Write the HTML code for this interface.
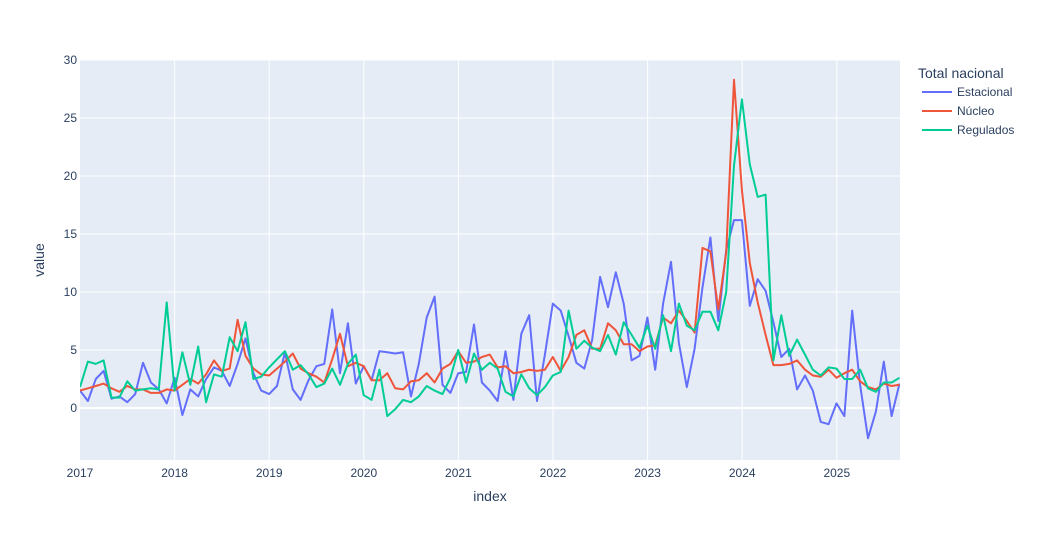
<!DOCTYPE html>
<html><head><meta charset="utf-8"><style>
body{margin:0;background:#fff;font-family:"Liberation Sans",Arial,sans-serif;}
svg text{font-family:"Liberation Sans",Arial,sans-serif;fill:#2a3f5f;}
</style></head><body>
<svg id="s" width="1037" height="540" xmlns="http://www.w3.org/2000/svg">
<defs><clipPath id="c"><rect x="80" y="60" width="820" height="400"/></clipPath></defs>
<rect x="0" y="0" width="1037" height="540" fill="#fff"/>
<rect x="80" y="60" width="820" height="400" fill="#e5ecf6"/>
<g id="grid"></g>
<g id="lines" clip-path="url(#c)"></g>
<g id="ticks" font-size="12"></g>
<text x="490" y="501" font-size="14" text-anchor="middle">index</text>
<text x="44" y="260" font-size="14" text-anchor="middle" transform="rotate(-90 44 260)">value</text>
<text x="918" y="78" font-size="14">Total nacional</text>
<line x1="922" y1="92" x2="952" y2="92" stroke="#636efa" stroke-width="2"/>
<text x="957" y="96" font-size="12">Estacional</text>
<line x1="922" y1="111" x2="952" y2="111" stroke="#ef553b" stroke-width="2"/>
<text x="957" y="115" font-size="12">Núcleo</text>
<line x1="922" y1="130" x2="952" y2="130" stroke="#00cc96" stroke-width="2"/>
<text x="957" y="134" font-size="12">Regulados</text>
</svg>
<script>
var NS="http://www.w3.org/2000/svg";
function Y(v){return 408-v*11.6;}
function X(i){return 80+i*7.88;}
var g=document.getElementById('grid'),t=document.getElementById('ticks'),L=document.getElementById('lines');
function el(p,tag,a,txt){var e=document.createElementNS(NS,tag);for(var k in a)e.setAttribute(k,a[k]);if(txt!==undefined)e.textContent=txt;p.appendChild(e);return e;}
for(var v=0;v<=30;v+=5){el(g,'line',{x1:80,x2:900,y1:Y(v),y2:Y(v),stroke:'#fff','stroke-width':v==0?2:1});el(t,'text',{x:77,y:Y(v)+4,'text-anchor':'end'},v);}
for(var yr=0;yr<=8;yr++){var x=80+yr*94.6;if(yr>0)el(g,'line',{x1:x,x2:x,y1:60,y2:460,stroke:'#fff','stroke-width':1});el(t,'text',{x:x,y:477,'text-anchor':'middle'},2017+yr);}
var E=[1.5,0.6,2.5,3.2,0.8,1.0,0.5,1.2,3.9,2.2,1.6,0.4,2.6,-0.6,1.6,1.0,2.5,3.5,3.2,1.9,3.8,6.0,3.0,1.5,1.2,1.9,4.8,1.6,0.7,2.4,3.6,3.8,8.5,3.0,7.3,2.1,3.6,2.4,4.9,4.8,4.7,4.8,1.0,3.8,7.8,9.6,2.0,1.3,3.0,3.1,7.2,2.2,1.5,0.6,4.9,0.7,6.4,8.0,0.6,4.6,9.0,8.4,6.2,3.9,3.4,5.9,11.3,8.7,11.7,9.0,4.1,4.5,7.8,3.3,9.0,12.6,5.6,1.8,5.1,10.4,14.7,7.5,13.6,16.2,16.2,8.8,11.1,10.1,7.4,4.4,5.1,1.6,2.8,1.5,-1.2,-1.4,0.4,-0.7,8.4,2.0,-2.6,-0.3,4.0,-0.7,2.1];
var N=[1.5,1.7,1.9,2.1,1.7,1.4,1.9,1.6,1.6,1.3,1.3,1.6,1.5,2.0,2.5,2.1,2.9,4.1,3.2,3.4,7.6,4.5,3.4,2.9,2.8,3.4,4.0,4.7,3.4,3.0,2.7,2.2,4.2,6.4,3.6,3.9,3.6,2.4,2.4,3.0,1.7,1.6,2.3,2.4,3.0,2.2,3.4,3.8,4.9,3.9,4.0,4.4,4.6,3.5,3.6,3.0,3.1,3.3,3.2,3.3,4.4,3.2,4.4,6.3,6.7,5.1,5.1,7.3,6.7,5.5,5.5,4.9,5.3,5.4,7.8,7.3,8.4,7.5,6.5,13.8,13.5,8.5,13.4,28.3,18.8,12.5,9.1,6.3,3.7,3.7,3.8,4.1,3.3,2.8,2.7,3.3,2.6,3.0,3.3,2.3,1.8,1.6,2.1,1.9,2.0];
var R=[1.8,4.0,3.8,4.1,0.9,0.9,2.3,1.5,1.6,1.7,1.6,9.1,1.5,4.8,2.0,5.3,0.5,2.9,2.7,6.1,4.9,7.4,2.5,2.7,3.5,4.2,4.9,3.3,3.7,2.9,1.8,2.1,3.4,2.0,3.8,4.6,1.1,0.7,3.3,-0.7,-0.1,0.7,0.5,1.0,1.9,1.5,1.2,2.6,5.0,2.2,4.7,3.3,3.9,3.4,1.4,1.0,2.9,1.7,1.1,1.8,2.8,3.1,8.4,5.1,5.8,5.2,4.9,6.3,4.6,7.4,6.3,5.2,7.1,5.1,8.0,4.9,9.0,7.1,6.7,8.3,8.3,6.7,10.0,20.9,26.6,21.0,18.2,18.4,4.1,8.0,4.5,5.9,4.6,3.3,2.8,3.5,3.4,2.5,2.5,3.3,1.7,1.4,2.2,2.2,2.6];
function pl(d,c){var p=d.map(function(v,i){return X(i).toFixed(1)+','+Y(v).toFixed(1);}).join(' ');el(L,'polyline',{points:p,fill:'none',stroke:c,'stroke-width':2,'stroke-linejoin':'round'});}
pl(E,'#636efa');pl(N,'#ef553b');pl(R,'#00cc96');
</script>
</body></html>
